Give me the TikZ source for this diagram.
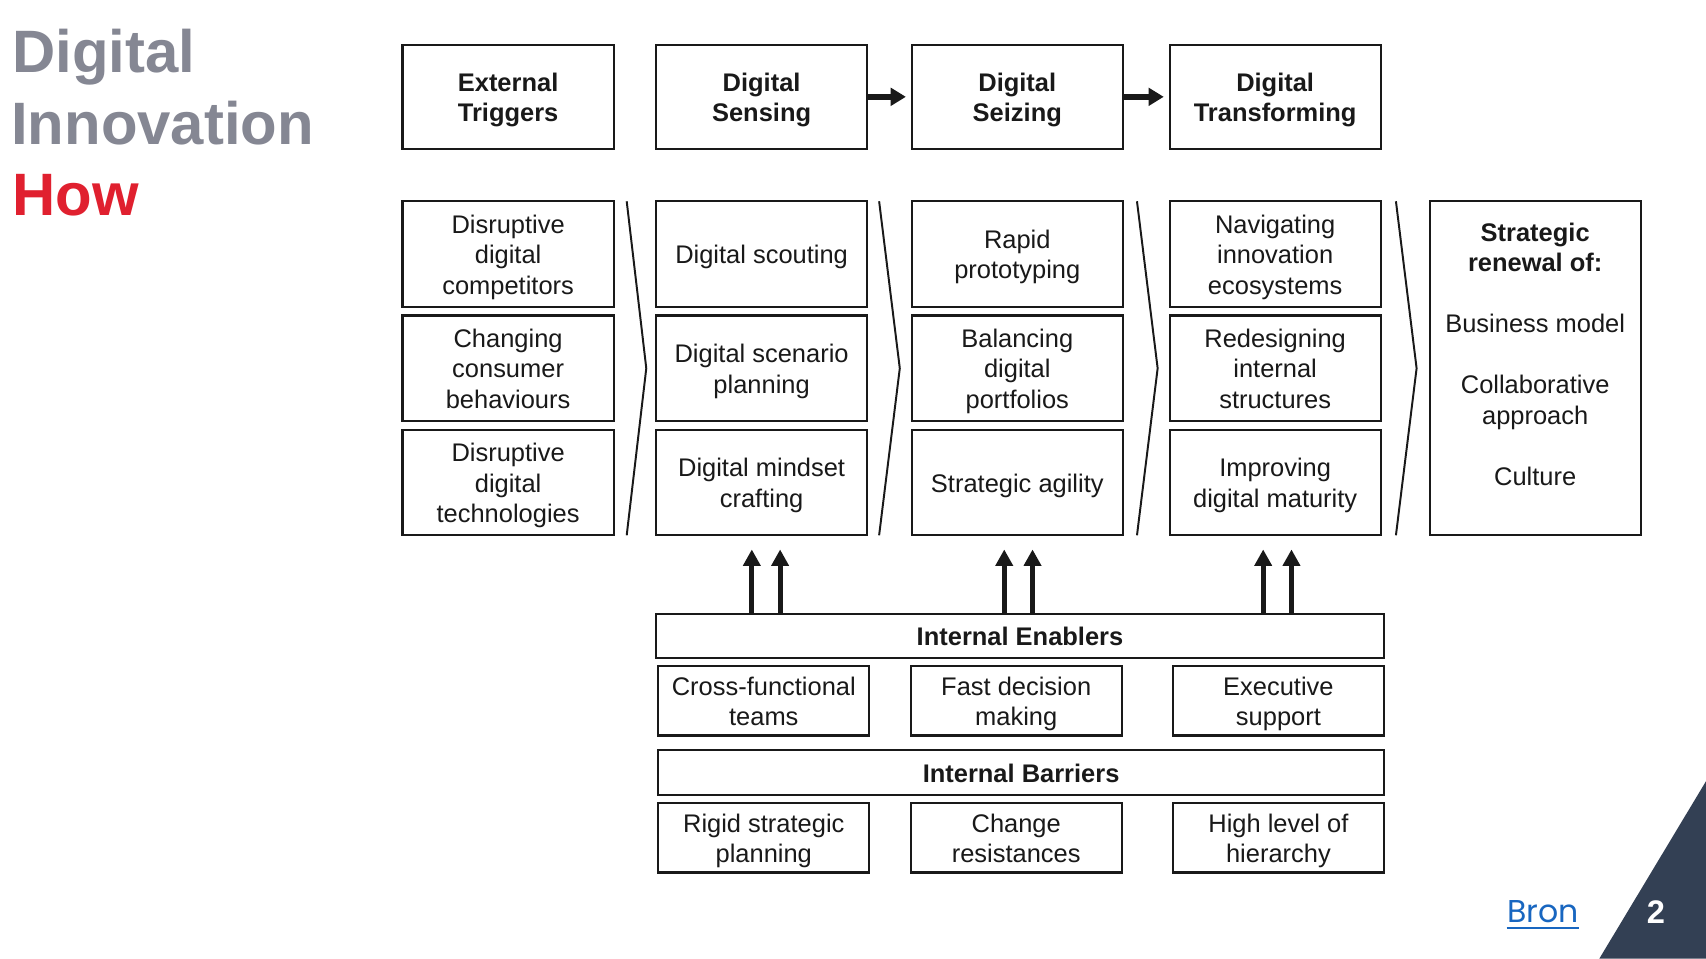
\documentclass[tikz,border=0pt]{standalone}
\usepackage{fontspec}
\setmainfont{Liberation Sans}
\newfontfamily\bronfont{Poppins}
\usetikzlibrary{arrows.meta}
\definecolor{titlegray}{RGB}{133,135,147}
\definecolor{titlered}{RGB}{224,32,47}
\definecolor{linkblue}{RGB}{24,102,192}
\definecolor{slate}{RGB}{51,64,84}
\definecolor{ink}{RGB}{25,25,25}
\newcommand\mytop{\rule{0pt}{11.5pt}}
\newcommand\mybot{\rule[-2.6pt]{0pt}{2.6pt}}
\begin{document}
\begin{tikzpicture}[x=0.5pt,y=-0.5pt,
  box/.style={draw=ink, line width=1pt, align=center, text=ink, inner sep=1pt,
    font=\fontsize{11.7}{14}\selectfont, minimum width=97pt},
  headbox/.style={box, minimum height=48pt, font=\fontsize{11.7}{14}\selectfont\bfseries},
  rowbox/.style={box, minimum height=48.5pt},
  smallbox/.style={box, minimum height=32pt},
  barbox/.style={box, minimum height=21pt, font=\fontsize{11.7}{14}\selectfont\bfseries},
  chev/.style={draw=ink, line width=0.9pt, line join=miter},
  harrow/.style={draw=ink, line width=2.7pt, -{Triangle[length=7pt,width=8pt]}, shorten >=2.2pt},
  uarrow/.style={draw=ink, line width=2.3pt, -{Triangle[length=7.5pt,width=7.7pt]}},
  titletxt/.style={anchor=base west, inner sep=0pt, font=\fontsize{27.5}{32}\selectfont\bfseries}
]
\useasboundingbox (0,0) rectangle (1568,881);
\fill[white] (0,0) rectangle (1568,881);

% title
\node[titletxt, text=titlegray] (t1) at (11,67) {Digital};
\node[titletxt, text=titlegray] (t2) at (10,133) {Innovation};
\node[titletxt, text=titlered] (t3) at (11,198) {How};

% top row
\node[headbox] (ext) at (467,89) {\mytop External\\Triggers\mybot};
\node[headbox] (sens) at (700,89) {\mytop Digital\\Sensing\mybot};
\node[headbox] (seiz) at (935,89) {\mytop Digital\\Seizing\mybot};
\node[headbox] (trans) at (1172,89) {\mytop Digital\\Transforming\mybot};
\draw[harrow] (sens.east) -- (seiz.west);
\draw[harrow] (seiz.east) -- (trans.west);

% column 1
\node[rowbox] (e1) at (467,233.5) {\mytop Disruptive\\digital\\competitors\mybot};
\node[rowbox] (e2) at (467,338.5) {\mytop Changing\\consumer\\behaviours\mybot};
\node[rowbox] (e3) at (467,443.5) {\mytop Disruptive\\digital\\technologies\mybot};
% column 2
\node[rowbox] (s1) at (700,233.5) {\mytop Digital scouting\mybot};
\node[rowbox] (s2) at (700,338.5) {\mytop Digital scenario\\planning\mybot};
\node[rowbox] (s3) at (700,443.5) {\mytop Digital mindset\\crafting\mybot};
% column 3
\node[rowbox] (z1) at (935,233.5) {\mytop Rapid\\prototyping\mybot};
\node[rowbox] (z2) at (935,338.5) {\mytop Balancing\\digital\\portfolios\mybot};
\node[rowbox] (z3) at (935,443.5) {\mytop Strategic agility\mybot};
% column 4
\node[rowbox] (r1) at (1172,233.5) {\mytop Navigating\\innovation\\ecosystems\mybot};
\node[rowbox] (r2) at (1172,338.5) {\mytop Redesigning\\internal\\structures\mybot};
\node[rowbox] (r3) at (1172,443.5) {\mytop Improving\\digital maturity\mybot};
% strategic renewal
\node[box, minimum height=153.5pt] (sr) at (1411,338.5) {};
\node[align=center, text=ink, inner sep=0pt, font=\fontsize{11.7}{14}\selectfont] (srt) at (1411,325.5)
  {\textbf{Strategic}\\\textbf{renewal of:}\\[14pt]Business model\\[14pt]Collaborative\\approach\\[14pt]Culture};

% chevrons
\draw[chev] (576,185) -- (594,338.5) -- (576,492);
\draw[chev] (808,185) -- (827,338.5) -- (808,492);
\draw[chev] (1045,185) -- (1064,338.5) -- (1045,492);
\draw[chev] (1283,185) -- (1302,338.5) -- (1283,492);

% internal enablers
\node[barbox, minimum width=334.5pt, minimum height=20.5pt] (ie) at (937.5,584.5) {\mytop Internal Enablers\mybot};
\node[smallbox] (ie1) at (702,644) {\mytop Cross-functional\\teams\mybot};
\node[smallbox] (ie2) at (934,644) {\mytop Fast decision\\making\mybot};
\node[smallbox] (ie3) at (1175,644) {\mytop Executive\\support\mybot};

% internal barriers
\node[barbox, minimum width=333.5pt] (ib) at (938.5,710) {\mytop Internal Barriers\mybot};
\node[smallbox] (ib1) at (702,770) {\mytop Rigid strategic\\planning\mybot};
\node[smallbox] (ib2) at (934,770) {\mytop Change\\resistances\mybot};
\node[smallbox] (ib3) at (1175,770) {\mytop High level of\\hierarchy\mybot};

% up arrows
\coordinate (u1) at (691,505);
\coordinate (u2) at (717,505);
\coordinate (u3) at (923,505);
\coordinate (u4) at (949,505);
\coordinate (u5) at (1161,505);
\coordinate (u6) at (1187,505);
\foreach \u in {u1,u2,u3,u4,u5,u6} {
  \draw[uarrow] (ie.north -| \u) -- (\u);
}

% footer
\fill[slate] (1568,718) -- (1568,881) -- (1470,881) -- cycle;
\node[text=white, font=\fontsize{15}{18}\selectfont\bfseries, inner sep=0pt] (pg) at (1522,838) {2};
\node[text=linkblue, font=\bronfont\fontsize{14.5}{17}\selectfont, anchor=base, inner sep=0pt] (bron) at (1418,848) {Bron};
\draw[linkblue, line width=1pt] ([yshift=-2.5pt]bron.base west) -- ([yshift=-2.5pt]bron.base east);
\end{tikzpicture}
\end{document}
